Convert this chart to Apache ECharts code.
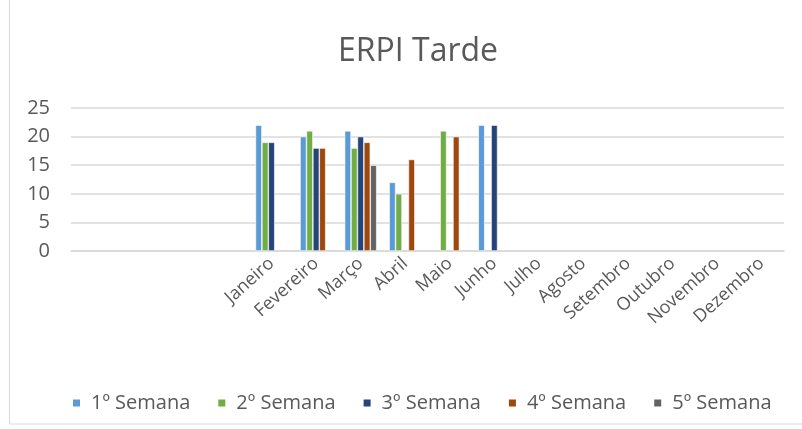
<!DOCTYPE html>
<html>
<head>
<meta charset="utf-8">
<script src="https://cdn.jsdelivr.net/npm/echarts@6/dist/echarts.min.js"></script>
<style>
  html, body { margin: 0; padding: 0; background: #fff; }
  #chart { width: 802px; height: 429px; }
</style>
</head>
<body>
<div id="chart"></div>
<script>
// four blank slots come before Janeiro in the original sheet
var categories = ['', '', '', '', 'Janeiro', 'Fevereiro', 'Março', 'Abril', 'Maio', 'Junho',
  'Julho', 'Agosto', 'Setembro', 'Outubro', 'Novembro', 'Dezembro'];
var semana1 = [null, null, null, null, 22, 20, 21, 12, null, 22, null, null, null, null, null, null];
var semana2 = [null, null, null, null, 19, 21, 18, 10, 21, null, null, null, null, null, null, null];
var semana3 = [null, null, null, null, 19, 18, 20, null, null, 22, null, null, null, null, null, null];
var semana4 = [null, null, null, null, null, 18, 19, 16, 20, null, null, null, null, null, null, null];
var semana5 = [null, null, null, null, null, null, 15, null, null, null, null, null, null, null, null, null];
var seriesNames = ['1º Semana', '2º Semana', '3º Semana', '4º Semana', '5º Semana'];
var colors = ['#5B9BD5', '#70AD47', '#264478', '#9E480E', '#636363'];

var font = 'Open Sans, Noto Sans, sans-serif';
var textColor = '#595959';

var chart = echarts.init(document.getElementById('chart'));

var allData = [semana1, semana2, semana3, semana4, semana5];
var series = allData.map(function (d, i) {
  return {
    name: seriesNames[i],
    type: 'bar',
    data: d,
    barGap: '0%',
    barCategoryGap: '28%',
    itemStyle: { color: colors[i], borderColor: '#ffffff', borderWidth: 0.6 }
  };
});

chart.setOption({
  animation: false,
  color: colors,
  title: {
    text: 'ERPI Tarde',
    left: 413,
    textAlign: 'center',
    top: 31,
    textStyle: { fontFamily: font, fontSize: 32, fontWeight: 'normal', color: textColor }
  },
  graphic: [{
    type: 'rect',
    shape: { x: 9.5, y: -2, width: 800, height: 426 },
    style: { fill: 'none', stroke: '#d9d9d9', lineWidth: 1 }
  }],
  legend: {
    top: 388,
    left: 66,
    itemWidth: 9,
    itemHeight: 9,
    itemGap: 26,
    icon: 'rect',
    textStyle: { fontFamily: font, fontSize: 20, color: textColor, padding: [0, 0, 0, 5] }
  },
  grid: { left: 71, right: 18, top: 108, bottom: 178 },
  xAxis: {
    type: 'category',
    data: categories,
    axisLine: { lineStyle: { color: '#d9d9d9', width: 1.5 } },
    axisTick: { show: false },
    axisLabel: {
      interval: 0,
      rotate: 42,
      margin: 10,
      fontFamily: font,
      fontSize: 18,
      color: textColor
    }
  },
  yAxis: {
    type: 'value',
    min: 0,
    max: 25,
    interval: 5,
    axisLine: { show: false },
    axisTick: { show: false },
    axisLabel: { fontFamily: font, fontSize: 20, color: textColor, margin: 21 },
    splitLine: { lineStyle: { color: '#d9d9d9', width: 1.5 } }
  },
  series: series
});
</script>
</body>
</html>
